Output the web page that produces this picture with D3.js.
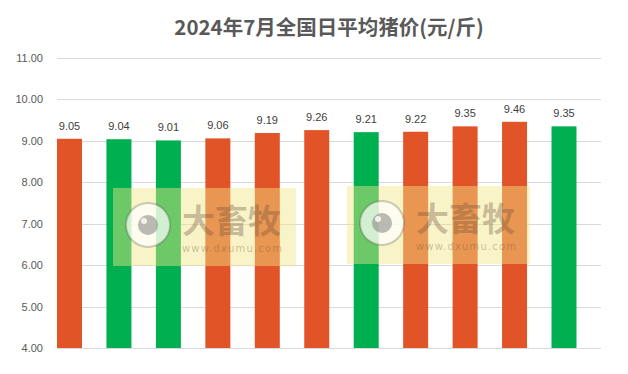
<!DOCTYPE html>
<html>
<head>
<meta charset="utf-8">
<script src="https://cdn.jsdelivr.net/npm/d3@7"></script>
<style>
  body { margin: 0; background: #fff; }
  svg { display: block; font-family: "Noto Sans CJK SC", "Noto Sans", sans-serif; }
</style>
</head>
<body>
<svg class="chart"></svg>
<script>
// data
var days = ["1", "2", "3", "4", "5", "6", "7", "8", "9", "10", "11"];
var prices = [9.05, 9.04, 9.01, 9.06, 9.19, 9.26, 9.21, 9.22, 9.35, 9.46, 9.35];
var trend = ["up", "down", "down", "up", "up", "up", "down", "up", "up", "up", "down"];
var yTicks = [4, 5, 6, 7, 8, 9, 10, 11];

var width = 628, height = 374;
var plotLeft = 57, plotRight = 601, plotTop = 58, plotBottom = 348;

var svg = d3.select(".chart")
  .attr("width", width)
  .attr("height", height);

var x = d3.scalePoint()
  .domain(days)
  .range([69.5, 564]);

var y = d3.scaleLinear()
  .domain([4, 11])
  .range([plotBottom, plotTop]);

var color = d3.scaleOrdinal()
  .domain(["up", "down"])
  .range(["#e05428", "#00b050"]);

// title
svg.append("text")
  .attr("x", 329)
  .attr("y", 35)
  .attr("text-anchor", "middle")
  .style("font-size", "20.5px")
  .style("font-weight", "bold")
  .style("fill", "#595959")
  .text("2024年7月全国日平均猪价(元/斤)");

// grid
svg.append("g")
  .selectAll("line")
  .data(yTicks)
  .join("line")
  .attr("x1", plotLeft)
  .attr("x2", plotRight)
  .attr("y1", function(d) { return Math.round(y(d)) + 0.5; })
  .attr("y2", function(d) { return Math.round(y(d)) + 0.5; })
  .attr("stroke", "#d9d9d9")
  .attr("stroke-width", 1);

// y axis labels
svg.append("g")
  .selectAll("text")
  .data(yTicks)
  .join("text")
  .attr("x", 43)
  .attr("y", function(d) { return y(d) + 4; })
  .attr("text-anchor", "end")
  .style("font-size", "11px")
  .style("fill", "#595959")
  .style("font-family", "'Liberation Sans', Arial, sans-serif")
  .text(function(d) { return d.toFixed(2); });

// bars
var barW = 25;
svg.append("g")
  .selectAll("rect")
  .data(prices)
  .join("rect")
  .attr("x", function(d, i) { return x(days[i]) - barW / 2; })
  .attr("y", function(d) { return y(d); })
  .attr("width", barW)
  .attr("height", function(d) { return y(4) - y(d); })
  .attr("fill", function(d, i) { return color(trend[i]); });

// value labels
svg.append("g")
  .selectAll("text")
  .data(prices)
  .join("text")
  .attr("x", function(d, i) { return x(days[i]); })
  .attr("y", function(d) { return y(d) - 9; })
  .attr("text-anchor", "middle")
  .style("font-size", "11px")
  .style("fill", "#404040")
  .style("font-family", "'Liberation Sans', Arial, sans-serif")
  .text(function(d) { return d.toFixed(2); });

// watermarks
function watermark(gx, gy) {
  var g = svg.append("g").attr("transform", "translate(" + gx + "," + gy + ")");
  g.append("rect")
    .attr("width", 183)
    .attr("height", 78)
    .attr("fill", "rgba(242,230,130,0.45)");
  g.append("circle")
    .attr("cx", 35).attr("cy", 37).attr("r", 22)
    .attr("fill", "rgba(255,255,255,0.7)")
    .attr("stroke", "rgba(60,60,60,0.25)")
    .attr("stroke-width", 2);
  g.append("circle")
    .attr("cx", 35).attr("cy", 37).attr("r", 10)
    .attr("fill", "rgba(120,120,120,0.5)");
  g.append("circle")
    .attr("cx", 31).attr("cy", 33).attr("r", 3)
    .attr("fill", "rgba(255,255,255,0.8)");
  g.append("text")
    .attr("x", 69).attr("y", 45)
    .style("font-size", "33px")
    .style("font-weight", "bold")
    .style("fill", "rgba(110,80,60,0.35)")
    .text("大畜牧");
  g.append("text")
    .attr("x", 69).attr("y", 64)
    .attr("textLength", 100)
    .style("font-size", "10px")
    .style("fill", "rgba(110,80,60,0.35)")
    .style("font-family", "'DejaVu Sans', sans-serif")
    .text("www.dxumu.com");
}
watermark(113, 188);
watermark(347, 186);
</script>
</body>
</html>
